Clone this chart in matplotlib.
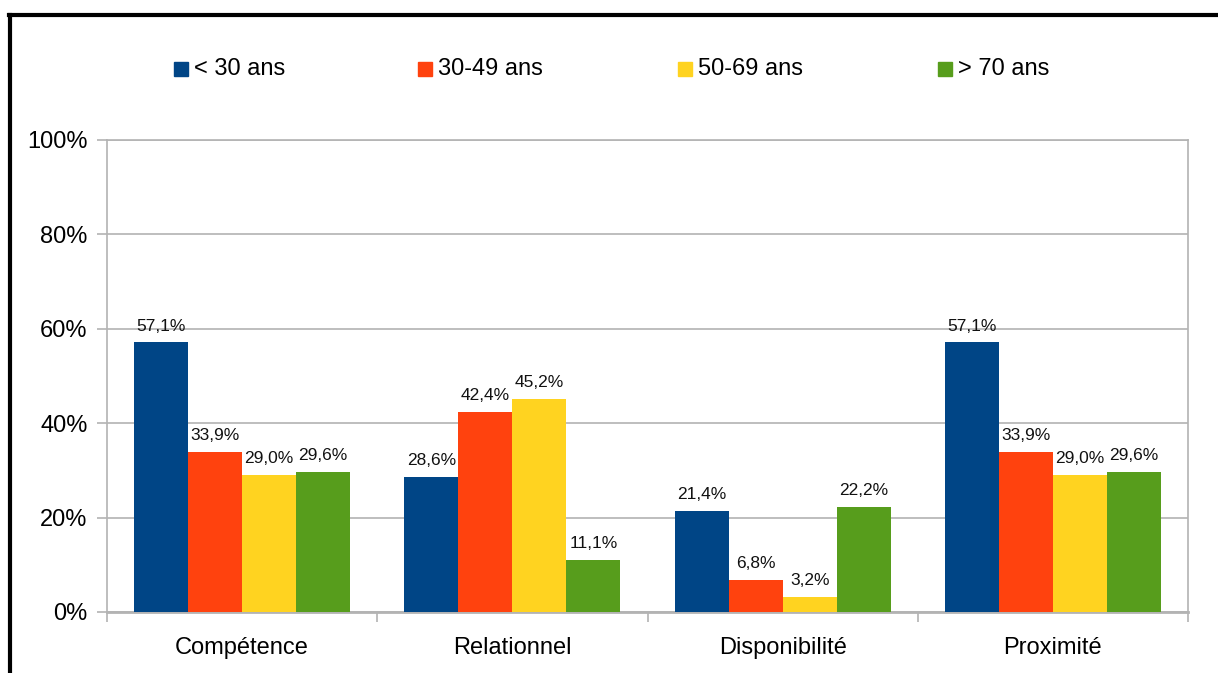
import matplotlib
matplotlib.use('Agg')
import matplotlib.pyplot as plt
import numpy as np
from matplotlib.patches import Rectangle
from matplotlib.lines import Line2D

plt.rcParams['font.family'] = ['Liberation Sans', 'DejaVu Sans']

categories = ['Compétence', 'Relationnel', 'Disponibilité', 'Proximité']
series = ['< 30 ans', '30-49 ans', '50-69 ans', '> 70 ans']
moins_30 = [57.1, 28.6, 21.4, 57.1]
de_30_49 = [33.9, 42.4, 6.8, 33.9]
de_50_69 = [29.0, 45.2, 3.2, 29.0]
plus_70 = [29.6, 11.1, 22.2, 29.6]
y_ticks = [0, 20, 40, 60, 80, 100]

valeurs = [moins_30, de_30_49, de_50_69, plus_70]
couleurs = ['#004586', '#ff420e', '#ffd320', '#579d1c']
gris = '#b3b3b3'

fig = plt.figure(figsize=(12.18, 6.73), dpi=100)
ax = fig.add_axes([107/1218, 1 - 612/673, (1188 - 107)/1218, (612 - 140)/673])

x = np.arange(len(categories))
w = 0.2
for i, (vals, c) in enumerate(zip(valeurs, couleurs)):
    pos = x - 0.3 + i * w
    ax.bar(pos, vals, width=w, color=c, zorder=3)
    for px, v in zip(pos, vals):
        ax.annotate(f'{v:.1f}%'.replace('.', ','), (px, v), xytext=(0, 8.5),
                    textcoords='offset points', ha='center', va='baseline',
                    fontsize=12.5, color='#111111')

ax.set_xlim(-0.5, 3.5)
ax.set_ylim(0, 100)
ax.set_yticks(y_ticks)
ax.set_yticklabels([f'{t}%' for t in y_ticks], fontsize=17)
ax.yaxis.grid(True, color=gris, linewidth=1.2, zorder=0)
ax.set_axisbelow(True)

ax.set_xticks(x)
ax.set_xticklabels(categories, fontsize=17)
ax.tick_params(axis='x', which='major', length=0, pad=18)
ax.set_xticks(np.arange(-0.5, 4.0, 1.0), minor=True)
ax.tick_params(axis='x', which='minor', length=7, color=gris, width=1.2)
ax.tick_params(axis='y', length=7, color=gris, width=1.2, pad=7)

for s in ax.spines.values():
    s.set_color(gris)
    s.set_linewidth(1.2)
ax.spines['bottom'].set_linewidth(2)

# legende manuelle
lx = [174, 418, 678, 938]
for px, lab, c in zip(lx, series, couleurs):
    fig.patches.append(Rectangle((px/1218, 1 - 76/673), 14/1218, 14/673,
                                 transform=fig.transFigure, color=c))
    fig.text((px + 20)/1218, 1 - 69/673, lab, fontsize=17, va='center', ha='left')

# cadre noir (gauche et haut)
fig.add_artist(Line2D([10/1218, 10/1218], [0, 1 - 14.5/673], color='black',
                      linewidth=3, transform=fig.transFigure))
fig.add_artist(Line2D([9/1218, 1], [1 - 14.5/673, 1 - 14.5/673], color='black',
                      linewidth=3, transform=fig.transFigure))

fig.savefig('out.png', dpi=100, facecolor='white')
